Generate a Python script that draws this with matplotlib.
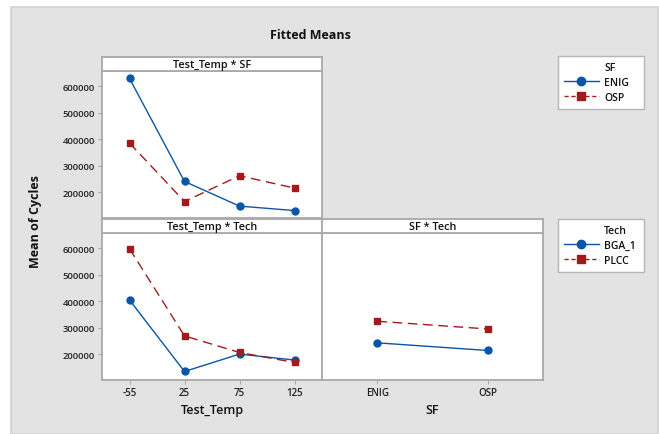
import matplotlib
matplotlib.use("Agg")
import matplotlib.pyplot as plt
from matplotlib.patches import Rectangle
from matplotlib.lines import Line2D

# ---- data ----
temps = ["-55", "25", "75", "125"]
sf_levels = ["ENIG", "OSP"]
tech_levels = ["BGA_1", "PLCC"]

temp_sf_enig = [629000, 241500, 148700, 132000]
temp_sf_osp = [386000, 166000, 263000, 216600]

temp_tech_bga = [405000, 136000, 201500, 179000]
temp_tech_plcc = [598000, 270000, 207500, 170000]

sf_tech_bga = [243800, 215000]
sf_tech_plcc = [325000, 296000]

yticks = [200000, 300000, 400000, 500000, 600000]

# ---- style ----
W, H = 659, 435
BLUE = "#0a55a8"
RED = "#a01c1c"
EDGE = "#a9a9a9"
BG = "#e3e3e3"
FONT = "Open Sans"
plt.rcParams['font.family'] = [FONT, 'DejaVu Sans']

fig = plt.figure(figsize=(W / 100, H / 100), dpi=100)
fig.patch.set_facecolor("white")

def rect(x0, y0, x1, y1):
    return [x0 / W, 1 - y1 / H, (x1 - x0) / W, (y1 - y0) / H]

# outer gray background
fig.patches.append(Rectangle((11 / W, 0), (658 - 11) / W, 1 - 8 / H,
                             transform=fig.transFigure, facecolor=BG,
                             edgecolor="#d2d2d2", linewidth=1.2, zorder=-10))

YLIM = (104000, 657000)
dash = (0, (7, 4))

def style_ax(ax, showy):
    ax.set_facecolor("white")
    for s in ax.spines.values():
        s.set_color(EDGE)
        s.set_linewidth(1.3)
    ax.set_ylim(*YLIM)
    ax.set_yticks(yticks)
    if showy:
        ax.set_yticklabels([str(v) for v in yticks], fontsize=6.8,
                           fontweight="semibold", color="#222222")
    else:
        ax.tick_params(axis="y", left=False, labelleft=False)
    ax.tick_params(axis="both", length=3, width=0.8, color=EDGE, pad=2)

def strip(x0, y0, x1, y1, label):
    sa = fig.add_axes(rect(x0, y0, x1, y1))
    sa.set_xticks([]); sa.set_yticks([])
    sa.set_facecolor("white")
    for s in sa.spines.values():
        s.set_color(EDGE)
        s.set_linewidth(1.3)
    sa.text(0.5, 0.45, label, ha="center", va="center", fontsize=7.8,
            fontweight="semibold", color="#111111", transform=sa.transAxes)

def plot_pair(ax, xs, a, b):
    ax.plot(xs, a, color=BLUE, lw=1.0, marker="o", ms=5, mec=BLUE, mfc=BLUE, zorder=3)
    ax.plot(xs, b, color=RED, lw=1.0, ls=dash, marker="s", ms=5, mec=RED, mfc=RED, zorder=3)

# top-left: Test_Temp * SF
ax1 = fig.add_axes(rect(102, 72, 322, 219))
style_ax(ax1, True)
x4 = list(range(len(temps)))
plot_pair(ax1, x4, temp_sf_enig, temp_sf_osp)
ax1.set_xlim(-0.5, 3.5)
ax1.set_xticks([])
strip(102, 58, 322, 72, "Test_Temp * SF")

# bottom-left: Test_Temp * Tech
ax2 = fig.add_axes(rect(102, 234, 322, 381))
style_ax(ax2, True)
plot_pair(ax2, x4, temp_tech_bga, temp_tech_plcc)
ax2.set_xlim(-0.5, 3.5)
ax2.set_xticks(x4)
ax2.set_xticklabels(temps, fontsize=7, fontweight="semibold", color="#222222")
ax2.set_xlabel("Test_Temp", fontsize=9, fontweight="semibold", color="#111111", labelpad=4)
strip(102, 220, 322, 234, "Test_Temp * Tech")

# bottom-right: SF * Tech
ax3 = fig.add_axes(rect(322, 234, 543, 381))
style_ax(ax3, False)
x2 = list(range(len(sf_levels)))
plot_pair(ax3, x2, sf_tech_bga, sf_tech_plcc)
ax3.set_xlim(-0.5, 1.5)
ax3.set_xticks(x2)
ax3.set_xticklabels(sf_levels, fontsize=7, fontweight="semibold", color="#222222")
ax3.set_xlabel("SF", fontsize=9, fontweight="semibold", color="#111111", labelpad=4)
strip(322, 220, 543, 234, "SF * Tech")

# titles
fig.text(310 / W, 1 - 36 / H, "Fitted Means", ha="center", va="center",
         fontsize=9, fontweight="bold", color="#111111")
fig.text(36 / W, 1 - 222 / H, "Mean of Cycles", ha="center", va="center",
         rotation=90, fontsize=9, fontweight="bold", color="#111111")

# legends
def make_handles():
    h0 = Line2D([], [], color="none", lw=0)
    h1 = Line2D([], [], color=BLUE, lw=1.0, marker="o", ms=6, mfc=BLUE, mec=BLUE)
    h2 = Line2D([], [], color=RED, lw=1.0, ls=(0, (3, 2)), marker="s", ms=6, mfc=RED, mec=RED)
    return [h0, h1, h2]

for (y0, title, labels) in [(57, "SF", sf_levels), (220, "Tech", tech_levels)]:
    leg = fig.legend(make_handles(), [title] + list(labels),
                     loc="upper left",
                     bbox_to_anchor=(558 / W, 1 - (y0 + 52) / H, 86 / W, 52 / H),
                     mode="expand",
                     fontsize=7.5, frameon=True, fancybox=False,
                     handlelength=3.4, handletextpad=0.5, borderpad=0.55,
                     labelspacing=0.4, borderaxespad=0, framealpha=1)
    leg.get_frame().set_edgecolor("#b5b5b5")
    leg.get_frame().set_linewidth(1.0)
    for t in leg.get_texts():
        t.set_fontweight("semibold")
        t.set_color("#111111")

fig.savefig("out.png", dpi=100)
